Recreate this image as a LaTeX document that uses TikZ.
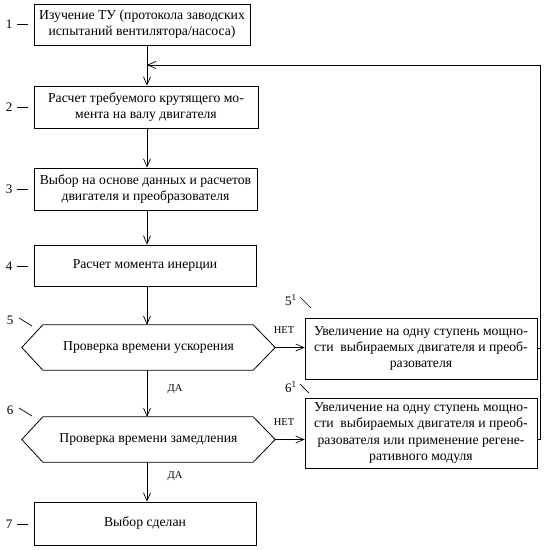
\documentclass[tikz,border=0pt]{standalone}
\usepackage{fontspec}
\setmainfont{Liberation Serif}
\usetikzlibrary{arrows.meta}
\begin{document}
\begin{tikzpicture}[x=1pt,y=-1pt,
  box/.style={draw,line width=0.8pt,align=center,inner sep=0pt,font=\fontsize{13.7}{16.3}\selectfont},
  hexn/.style={inner sep=0pt,minimum width=253pt,minimum height=45pt,font=\fontsize{13.7}{16.3}\selectfont},
  hexline/.style={draw,line width=0.8pt},
  arr/.style={line width=0.7pt,-{Straight Barb[length=8pt,width=7pt,line width=0.7pt]}},
  ln/.style={line width=0.7pt},
  num/.style={inner sep=0pt,font=\fontsize{13}{15}\selectfont},
  lab/.style={inner sep=0pt,font=\fontsize{10.5}{12}\selectfont}]
\useasboundingbox (0,0) rectangle (548,550);
\coordinate (axis) at (147,0);
\coordinate (rc) at (540,65);
\node[box,minimum width=216pt,minimum height=41pt] (b1) at (142,24.5) {Изучение ТУ (протокола заводских\\испытаний вентилятора/насоса)};
\node[box,minimum width=224pt,minimum height=42pt] (b2) at (146,107) {Расчет требуемого крутящего мо-\\мента на валу двигателя};
\node[box,minimum width=223pt,minimum height=42pt] (b3) at (145.5,189) {Выбор на основе данных и расчетов\\двигателя и преобразователя};
\node[box,minimum width=222pt,minimum height=41pt] (b4) at (145,265.5) {Расчет момента инерции};
\node[hexn] (h5) at (148.5,347.5) {Проверка времени ускорения};
\node[hexn] (h6) at (148.5,439.5) {Проверка времени замедления};
\node[box,minimum width=222pt,minimum height=43pt] (b7) at (145,523.5) {Выбор сделан};
\node[box,minimum width=232pt,minimum height=61pt] (b5r) at (421,348.5) {Увеличение на одну ступень мощно-\\сти\ \ выбираемых двигателя и преоб-\\разователя};
\node[box,minimum width=232pt,minimum height=70pt] (b6r) at (421,433) {Увеличение на одну ступень мощно-\\сти\ \ выбираемых двигателя и преоб-\\разователя или применение регене-\\ративного модуля};
\foreach \h in {h5,h6}{
  \draw[hexline] (\h.west) -- ([xshift=21pt]\h.north west) -- ([xshift=-22pt]\h.north east) -- (\h.east) -- ([xshift=-22pt]\h.south east) -- ([xshift=21pt]\h.south west) -- cycle;
}
% main flow
\draw[arr] (b1.south -| axis) -- (b2.north -| axis);
\draw[arr] (b2.south -| axis) -- (b3.north -| axis);
\draw[arr] (b3.south -| axis) -- (b4.north -| axis);
\draw[arr] (b4.south -| axis) -- (h5.north -| axis);
\draw[arr] (h5.south -| axis) -- (h6.north -| axis);
\draw[arr] (h6.south -| axis) -- (b7.north -| axis);
% no branches
\draw[arr] (h5.east) -- (h5.east -| b5r.west);
\draw[arr] (h6.east) -- (h6.east -| b6r.west);
% feedback
\draw[ln] (b5r.east) -- (b5r.east -| rc);
\draw[arr] (h6.east -| b6r.east) -- (h6.east -| rc) -- (rc) -- (rc -| axis);
% labels
\node[lab] (da1) at (175,389) {ДА};
\node[lab] (da2) at (175,476) {ДА};
\node[lab] (net1) at (284,330) {НЕТ};
\node[lab] (net2) at (284,422) {НЕТ};
% numbers
\node[num] (n1) at (9,24) {1};
\node[num] (n2) at (9,107) {2};
\node[num] (n3) at (9,189) {3};
\node[num] (n4) at (9,266) {4};
\node[num] (n7) at (9,524) {7};
\node[num] (n5) at (10,320) {5};
\node[num] (n6) at (10,410) {6};
\node[num] (n51) at (291,300) {5\textsuperscript{1}};
\node[num] (n61) at (291,387) {6\textsuperscript{1}};
\foreach \n in {n1,n2,n3,n4,n7}{\draw[ln] ([xshift=5pt]\n.east) -- ++(11pt,0);}
\draw[ln] (19,318) -- (32,326);
\draw[ln] (19,408) -- (32,416);
\draw[ln] (300,297) -- (311,308);
\draw[ln] (300,384) -- (309,393);
\end{tikzpicture}
\end{document}
